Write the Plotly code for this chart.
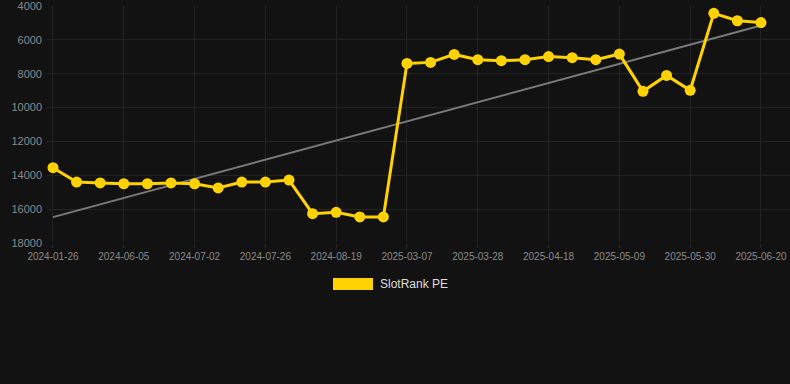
import numpy as np
import plotly.graph_objects as go

dates = [
    "2024-01-26", "2024-03-15", "2024-04-25", "2024-06-05", "2024-06-14", "2024-06-23",
    "2024-07-02", "2024-07-10", "2024-07-18", "2024-07-26", "2024-08-03", "2024-08-11",
    "2024-08-19", "2024-08-27", "2024-09-04", "2025-03-07", "2025-03-14", "2025-03-21",
    "2025-03-28", "2025-04-04", "2025-04-11", "2025-04-18", "2025-04-25", "2025-05-02",
    "2025-05-09", "2025-05-16", "2025-05-23", "2025-05-30", "2025-06-06", "2025-06-13",
    "2025-06-20",
]
rank = [
    13550, 14400, 14450, 14500, 14500, 14450, 14500, 14750, 14400, 14400, 14280,
    16270, 16190, 16460, 16460, 7390, 7330, 6860, 7170, 7230, 7170, 6990, 7050,
    7170, 6840, 9040, 8100, 8980, 4430, 4870, 4980,
]
tick_labels = dates[::3]
y_ticks = [4000, 6000, 8000, 10000, 12000, 14000, 16000, 18000]
series_name = "SlotRank PE"

idx = np.arange(len(rank))
slope, intercept = np.polyfit(idx, rank, 1)
trend = intercept + slope * idx

BG = "#121212"
GOLD = "#FFD200"
GRID = "#232323"
TICK = "#8a8a8a"

fig = go.Figure()
fig.add_trace(go.Scatter(
    x=dates, y=trend, mode="lines",
    line=dict(color="#7a7a7a", width=2), showlegend=False, hoverinfo="skip",
))
fig.add_trace(go.Scatter(
    x=dates, y=rank, mode="lines+markers", name=series_name,
    line=dict(color=GOLD, width=3), marker=dict(color=GOLD, size=11),
    showlegend=False,
))

L, R, T, B = 47, 0, 6, 141
W, H = 790, 384
pw = W - L - R
ph = H - T - B

def px(x):
    return (x - L) / pw

def py(y):
    return (H - B - y) / ph

fig.add_shape(type="rect", xref="paper", yref="paper",
              x0=px(333), x1=px(373), y0=py(290), y1=py(278),
              fillcolor=GOLD, line=dict(width=0))
fig.add_annotation(xref="paper", yref="paper", x=px(378), y=py(284),
                   text=series_name, showarrow=False, xanchor="left", yanchor="middle",
                   font=dict(family="Liberation Sans, Arial, sans-serif", size=12, color="#dedede"))

fig.update_layout(
    width=W, height=H,
    margin=dict(l=L, r=R, t=T, b=B),
    paper_bgcolor=BG, plot_bgcolor=BG,
    font=dict(family="Liberation Sans, Arial, sans-serif", size=11, color=TICK),
    showlegend=False,
)
fig.update_xaxes(
    type="category", range=[-0.254, len(dates) - 1 + 1.23],
    tickmode="array", tickvals=tick_labels, ticktext=tick_labels,
    showgrid=True, gridcolor=GRID, gridwidth=1, zeroline=False, showline=False,
    ticks="outside", ticklen=4, tickcolor="#2a2a2a",
    tickfont=dict(size=10, color=TICK),
)
fig.update_yaxes(
    range=[18000.5, 3999.5], tickmode="array", tickvals=y_ticks,
    ticktext=[str(v) for v in y_ticks], ticklabeloverflow="allow",
    showgrid=True, gridcolor=GRID, gridwidth=1, zeroline=False, showline=False,
    tickfont=dict(size=11, color=TICK), ticklabelstandoff=4,
)

fig.write_html(
    "out.html",
    config={"displayModeBar": False},
    post_script="document.body.style.margin='0';document.body.style.background='#121212';",
)
